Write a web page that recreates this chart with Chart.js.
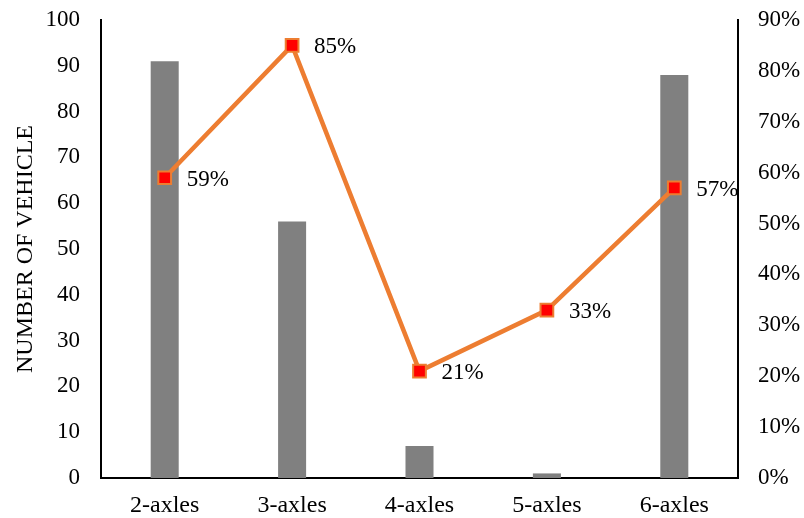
<!DOCTYPE html>
<html>
<head>
<meta charset="utf-8">
<script src="https://cdn.jsdelivr.net/npm/chart.js@4"></script>
<style>
  html, body { margin: 0; padding: 0; background: #fff; }
  #wrap { width: 804px; height: 518px; }
</style>
</head>
<body>
<div id="wrap"><canvas id="chart"></canvas></div>
<script>
// chart data
const categories = ['2-axles', '3-axles', '4-axles', '5-axles', '6-axles'];
const vehicleCounts = [91, 56, 7, 1, 88];
const sharePercent = [59, 85, 21, 33, 57];

const FONT = '"Liberation Serif", "Times New Roman", serif';

// draws the % labels to the right of each line point
const pointLabels = {
  id: 'pointLabels',
  afterDatasetsDraw(chart) {
    const ctx = chart.ctx;
    const meta = chart.getDatasetMeta(0);
    ctx.save();
    ctx.font = '23px ' + FONT;
    ctx.fillStyle = '#000';
    ctx.textAlign = 'left';
    ctx.textBaseline = 'middle';
    meta.data.forEach((pt, i) => {
      ctx.fillText(sharePercent[i] + '%', pt.x + 22, pt.y + 2);
    });
    ctx.restore();
  }
};

const ctx = document.getElementById('chart').getContext('2d');
new Chart(ctx, {
  data: {
    labels: categories,
    datasets: [
      {
        type: 'line',
        label: 'Share',
        data: sharePercent,
        yAxisID: 'y2',
        borderColor: '#ED7D31',
        borderWidth: 4.5,
        pointStyle: 'rect',
        pointRadius: 9,
        pointBackgroundColor: '#FF0000',
        pointBorderColor: '#ED7D31',
        pointBorderWidth: 2,
        tension: 0,
        order: 0
      },
      {
        type: 'bar',
        label: 'Number of vehicle',
        data: vehicleCounts,
        yAxisID: 'y',
        backgroundColor: '#808080',
        barPercentage: 0.22,
        categoryPercentage: 1,
        order: 1
      }
    ]
  },
  plugins: [pointLabels],
  options: {
    responsive: true, maintainAspectRatio: false, animation: false,
    layout: { padding: { left: 0, right: 0, top: 20, bottom: 0 } },
    plugins: { legend: { display: false }, tooltip: { enabled: false } },
    scales: {
      x: {
        grid: { display: false, drawTicks: false, tickLength: 0 },
        border: { display: true, color: '#000', width: 2 },
        ticks: { color: '#000', font: { family: FONT, size: 24 }, padding: 13 },
        afterFit: s => { s.height = 40; s.paddingLeft = 0; s.paddingRight = 0; }
      },
      y: {
        position: 'left', min: 0, max: 100,
        grid: { display: false, drawTicks: false, tickLength: 0 },
        border: { display: true, color: '#000', width: 2 },
        ticks: { stepSize: 10, color: '#000', font: { family: FONT, size: 23 }, padding: 21 },
        title: { display: true, text: 'NUMBER OF VEHICLE', color: '#000', font: { family: FONT, size: 24 }, padding: { top: 11, bottom: 0 } },
        afterFit: s => { s.width = 101; s.paddingTop = 0; s.paddingBottom = 0; }
      },
      y2: {
        position: 'right', min: 0, max: 90,
        grid: { display: false, drawTicks: false, tickLength: 0 },
        border: { display: true, color: '#000', width: 2 },
        ticks: { stepSize: 10, color: '#000', font: { family: FONT, size: 23 }, padding: 20, callback: v => v + '%' },
        afterFit: s => { s.width = 66; s.paddingTop = 0; s.paddingBottom = 0; }
      }
    }
  }
});
</script>
</body>
</html>
